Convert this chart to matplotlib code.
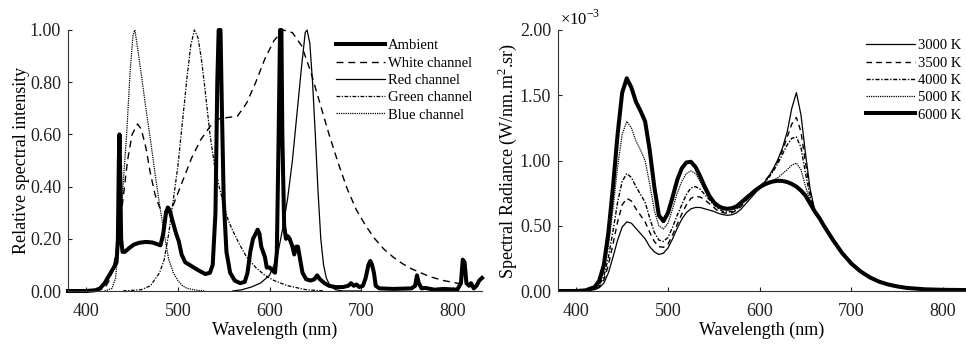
import matplotlib
matplotlib.use("Agg")
import matplotlib.pyplot as plt

plt.rcParams['font.family'] = ['Liberation Serif', 'DejaVu Serif']
plt.rcParams['mathtext.fontset'] = 'custom'
plt.rcParams['mathtext.rm'] = 'Liberation Serif'

# ---------------- Left panel data ----------------
amb_wl = [380, 400, 410, 415, 420, 425, 430, 433, 434.5, 435.5, 436.2, 437, 438, 439.5, 442, 447, 452, 458,
          465, 472, 477, 481, 484, 487, 489, 491, 494, 498, 501, 504, 508, 515, 522, 530, 535, 538, 541, 543,
          544.5, 546.5, 548, 550, 553, 557, 562, 568, 573, 576, 579, 582, 585, 587, 589, 591, 593, 595, 597,
          600, 603, 606, 608, 610, 611.5, 613, 614, 616, 618, 620, 622, 625, 627, 629, 631, 633, 636, 640,
          645, 649, 652, 655, 660, 665, 672, 680, 686, 689, 692, 695, 698, 702, 705, 708, 710, 712, 714, 716,
          720, 735, 755, 759, 761, 763, 766, 770, 780, 790, 805, 809, 811, 813, 815, 818, 820, 823, 826, 829, 832]
amb_val = [0.0, 0.0, 0.003, 0.01, 0.03, 0.06, 0.09, 0.11, 0.2, 0.5, 0.6, 0.45, 0.2, 0.15, 0.15, 0.165, 0.178, 0.185,
           0.188, 0.186, 0.18, 0.175, 0.22, 0.3, 0.32, 0.31, 0.27, 0.22, 0.19, 0.14, 0.11, 0.095, 0.08, 0.065, 0.07, 0.1, 0.3, 0.8,
           1.0, 1.0, 0.7, 0.35, 0.15, 0.07, 0.04, 0.03, 0.035, 0.07, 0.15, 0.2, 0.22, 0.235, 0.22, 0.17, 0.15, 0.13, 0.09,
           0.09, 0.08, 0.07, 0.15, 0.6, 1.0, 1.0, 0.6, 0.25, 0.2, 0.21, 0.2, 0.17, 0.14, 0.17, 0.17, 0.13, 0.07, 0.045,
           0.04, 0.045, 0.06, 0.045, 0.03, 0.02, 0.015, 0.015, 0.02, 0.03, 0.02, 0.025, 0.015, 0.02, 0.05, 0.1, 0.115, 0.1, 0.07, 0.02,
           0.01, 0.008, 0.01, 0.02, 0.06, 0.03, 0.01, 0.012, 0.005, 0.008, 0.005, 0.03, 0.12, 0.11, 0.03, 0.02, 0.03, 0.01, 0.02, 0.04, 0.05]

white_wl = [410, 420, 425, 430, 435, 440, 445, 450, 456, 460, 465, 470, 475, 480, 487, 495, 505, 515, 525, 535, 545,
            555, 565, 575, 585, 595, 605, 615, 625, 635, 645, 655, 665, 675, 685, 695, 705, 715, 725, 735, 745, 755,
            765, 775, 790, 805, 815]
white_val = [0.0, 0.01, 0.04, 0.1, 0.2, 0.35, 0.5, 0.6, 0.64, 0.62, 0.55, 0.45, 0.37, 0.32, 0.3, 0.33, 0.42, 0.51, 0.58,
             0.63, 0.66, 0.665, 0.67, 0.72, 0.8, 0.89, 0.96, 1.0, 0.99, 0.94, 0.84, 0.72, 0.6, 0.49, 0.39, 0.31, 0.25,
             0.2, 0.16, 0.13, 0.105, 0.085, 0.07, 0.055, 0.04, 0.03, 0.025]

red_wl = [560, 570, 580, 590, 600, 605, 610, 615, 620, 625, 630, 635, 639, 641, 644, 647, 650, 653, 656, 659, 662,
          666, 672, 680, 700]
red_val = [0.0, 0.005, 0.015, 0.03, 0.06, 0.1, 0.16, 0.25, 0.36, 0.5, 0.68, 0.86, 0.99, 1.0, 0.95, 0.8, 0.6, 0.38,
           0.2, 0.1, 0.05, 0.02, 0.005, 0.0, 0.0]

green_wl = [440, 460, 470, 480, 485, 490, 495, 500, 505, 510, 514, 518, 522, 526, 530, 535, 540, 545, 550, 555, 560,
            567, 575, 585, 595, 605, 620, 640, 660]
green_val = [0.0, 0.005, 0.02, 0.07, 0.12, 0.22, 0.35, 0.48, 0.65, 0.82, 0.94, 1.0, 0.97, 0.88, 0.76, 0.6, 0.48, 0.4,
             0.33, 0.27, 0.23, 0.18, 0.13, 0.09, 0.06, 0.04, 0.02, 0.005, 0.0]

blue_wl = [420, 428, 432, 436, 440, 444, 448, 451, 453, 456, 460, 465, 470, 475, 480, 485, 490, 495, 500, 505, 510,
           520, 530]
blue_val = [0.0, 0.01, 0.05, 0.2, 0.4, 0.6, 0.85, 0.98, 1.0, 0.93, 0.83, 0.7, 0.58, 0.45, 0.33, 0.22, 0.12, 0.07,
            0.04, 0.02, 0.01, 0.003, 0.0]

left_labels = ['Ambient', 'White channel', 'Red channel', 'Green channel', 'Blue channel']

# ---------------- Right panel data (x 1e-3) ----------------
cct_wl = [380, 400, 410, 420, 425, 430, 435, 440, 445, 450, 455, 460, 465, 470, 475, 480, 485, 490, 495, 500,
          505, 510, 515, 520, 525, 530, 535, 540, 545, 550, 555, 560, 565, 570, 575, 580, 585, 590, 595, 600,
          605, 610, 615, 620, 625, 630, 635, 640, 645, 650, 655, 660, 665, 670, 680, 690, 700, 710, 720, 730,
          740, 750, 760, 780, 800, 830]
tail = [0.56, 0.5, 0.39, 0.29, 0.21, 0.15, 0.105, 0.072, 0.05, 0.035, 0.024, 0.013, 0.009, 0.007]
r3000 = [0, 0, 0.002, 0.01, 0.025, 0.06, 0.14, 0.26, 0.39, 0.49, 0.53, 0.52, 0.48, 0.44, 0.4, 0.34, 0.3, 0.28,
         0.29, 0.33, 0.4, 0.48, 0.55, 0.6, 0.63, 0.64, 0.64, 0.63, 0.62, 0.61, 0.595, 0.585, 0.58, 0.585, 0.6,
         0.63, 0.67, 0.71, 0.75, 0.79, 0.83, 0.88, 0.94, 1.01, 1.1, 1.22, 1.4, 1.52, 1.35, 1.05, 0.78, 0.62] + tail
r3500 = [0, 0, 0.002, 0.015, 0.035, 0.085, 0.2, 0.36, 0.53, 0.66, 0.71, 0.69, 0.63, 0.58, 0.53, 0.45, 0.38, 0.34,
         0.335, 0.36, 0.43, 0.51, 0.59, 0.66, 0.71, 0.725, 0.72, 0.7, 0.67, 0.64, 0.61, 0.6, 0.595, 0.6, 0.62,
         0.65, 0.69, 0.73, 0.77, 0.8, 0.84, 0.88, 0.93, 1.0, 1.08, 1.18, 1.28, 1.33, 1.22, 0.98, 0.76, 0.61] + tail
r4000 = [0, 0, 0.003, 0.02, 0.045, 0.11, 0.26, 0.46, 0.68, 0.84, 0.9, 0.87, 0.8, 0.74, 0.68, 0.56, 0.45, 0.39,
         0.38, 0.41, 0.49, 0.58, 0.66, 0.74, 0.79, 0.8, 0.78, 0.74, 0.7, 0.66, 0.63, 0.61, 0.605, 0.61, 0.63,
         0.66, 0.7, 0.74, 0.77, 0.8, 0.83, 0.87, 0.92, 0.98, 1.05, 1.12, 1.17, 1.18, 1.1, 0.9, 0.72, 0.6] + tail
r5000 = [0, 0, 0.004, 0.025, 0.06, 0.15, 0.35, 0.63, 0.95, 1.2, 1.3, 1.25, 1.15, 1.08, 1.0, 0.82, 0.62, 0.5,
         0.475, 0.52, 0.63, 0.75, 0.84, 0.9, 0.92, 0.9, 0.84, 0.77, 0.71, 0.67, 0.64, 0.625, 0.62, 0.625, 0.64,
         0.67, 0.7, 0.73, 0.76, 0.79, 0.815, 0.835, 0.85, 0.87, 0.9, 0.93, 0.965, 0.98, 0.93, 0.8, 0.69, 0.6] + tail
r6000 = [0, 0, 0.005, 0.03, 0.08, 0.2, 0.45, 0.8, 1.2, 1.52, 1.63, 1.56, 1.45, 1.38, 1.3, 1.08, 0.8, 0.58,
         0.535, 0.6, 0.72, 0.85, 0.94, 0.985, 0.99, 0.95, 0.88, 0.8, 0.73, 0.68, 0.65, 0.635, 0.63, 0.635, 0.65,
         0.68, 0.71, 0.74, 0.77, 0.795, 0.815, 0.83, 0.84, 0.845, 0.843, 0.835, 0.82, 0.8, 0.77, 0.73, 0.67, 0.61] + tail
cct_labels = ['3000 K', '3500 K', '4000 K', '5000 K', '6000 K']

# ---------------- Figure ----------------
fig = plt.figure(figsize=(9.66, 3.45), dpi=100)
axL = fig.add_axes([68/966, 1-291/345, 414/966, 261/345])
axR = fig.add_axes([558/966, 1-291/345, 408/966, 261/345])

FS_TICK = 13
FS_LAB = 13
FS_LEG = 10.5

def style(ax):
    for s in ['top', 'right']:
        ax.spines[s].set_visible(False)
    for s in ['left', 'bottom']:
        ax.spines[s].set_linewidth(0.8)
        ax.spines[s].set_color('#333333')
    ax.tick_params(direction='in', length=3, width=0.8, labelsize=FS_TICK, pad=5, colors='#222222')
    ax.tick_params(axis='x', pad=9)
    ax.set_xticks([400, 500, 600, 700, 800])
    ax.set_xlabel('Wavelength (nm)', fontsize=FS_LAB, labelpad=1)

k = 'black'
axL.plot(amb_wl, amb_val, color=k, lw=2.9, label=left_labels[0], clip_on=False, solid_joinstyle='round')
axL.plot(white_wl, white_val, color=k, lw=1.0, ls=(0, (5, 3.5)), label=left_labels[1], clip_on=False)
axL.plot(red_wl, red_val, color=k, lw=0.9, label=left_labels[2], clip_on=False)
axL.plot(green_wl, green_val, color=k, lw=0.9, ls=(0, (3, 1.2, 1, 1.2)), label=left_labels[3], clip_on=False)
axL.plot(blue_wl, blue_val, color=k, lw=0.9, ls=(0, (1, 0.8)), label=left_labels[4], clip_on=False)
axL.set_xlim(380, 832)
axL.set_ylim(0, 1.0)
axL.set_yticks([0, 0.2, 0.4, 0.6, 0.8, 1.0])
axL.set_yticklabels(['%.2f' % v for v in [0, 0.2, 0.4, 0.6, 0.8, 1.0]])
axL.set_ylabel('Relative spectral intensity', fontsize=FS_LAB, labelpad=0)
style(axL)
axL.legend(loc='upper left', bbox_to_anchor=(0.647, 0.965), frameon=False, fontsize=FS_LEG,
           handlelength=3.35, handletextpad=0.2, labelspacing=0.28, borderpad=0, borderaxespad=0)

styles = [dict(lw=0.9), dict(lw=1.0, ls=(0, (4, 3))), dict(lw=1.0, ls=(0, (3, 1.2, 1, 1.2))),
          dict(lw=0.9, ls=(0, (1, 0.8))), dict(lw=2.9)]
for data, lab, st in zip([r3000, r3500, r4000, r5000, r6000], cct_labels, styles):
    axR.plot(cct_wl, data, color=k, label=lab, **st)
axR.set_xlim(380, 825)
axR.set_ylim(0, 2.0)
axR.set_yticks([0, 0.5, 1.0, 1.5, 2.0])
axR.set_yticklabels(['%.2f' % v for v in [0, 0.5, 1.0, 1.5, 2.0]])
axR.set_ylabel('Spectral Radiance (W/nm.m$^2$.sr)', fontsize=FS_LAB, labelpad=0.5)
style(axR)
axR.text(0.005, 1.004, r'$\times$10$^{-3}$', transform=axR.transAxes, fontsize=12, ha='left', va='bottom')
axR.legend(loc='upper left', bbox_to_anchor=(0.755, 0.965), frameon=False, fontsize=FS_LEG,
           handlelength=3.35, handletextpad=0.2, labelspacing=0.28, borderpad=0, borderaxespad=0)

fig.savefig('out.png', dpi=100)
